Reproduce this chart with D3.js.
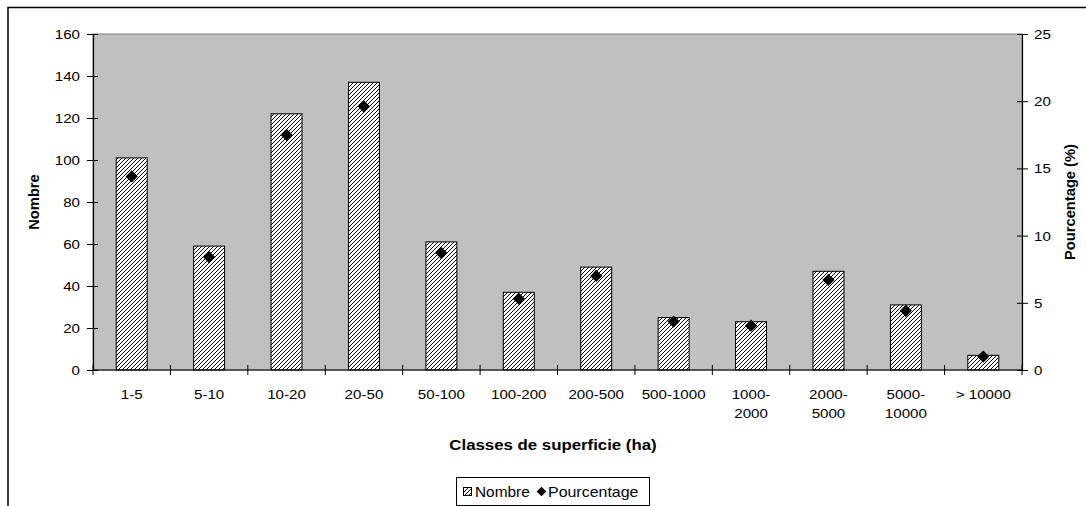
<!DOCTYPE html>
<html><head><meta charset="utf-8">
<script src="https://cdn.jsdelivr.net/npm/d3@7"></script>
<style>
html,body{margin:0;padding:0;background:#fff;}
svg{display:block;font-family:"Liberation Sans",Arial,sans-serif;}
</style></head>
<body>
<svg id="chart" width="1086" height="506"></svg>
<script>
const categories = ["1-5","5-10","10-20","20-50","50-100","100-200","200-500","500-1000","1000-2000","2000-5000","5000-10000","> 10000"];
const nombre = [101,59,122,137,61,37,49,25,23,47,31,7];
const pourcentage = [14.4,8.4,17.5,19.6,8.7,5.3,7.0,3.6,3.3,6.7,4.4,1.0];
const leftTicks = [0,20,40,60,80,100,120,140,160];
const rightTicks = [0,5,10,15,20,25];

const svg = d3.select("#chart");
const W = 1086, H = 506;
const m = {left:93, right:1022, top:34, bottom:370};
const SX = 1.12, FS = 13.5;

function txt(parent, x, y, str, o={}){
  const g = parent.append("g").attr("transform",`translate(${x},${y})${o.rot?` rotate(${o.rot})`:""} scale(${o.sx||SX},1)`);
  return g.append("text").attr("text-anchor",o.anchor||"middle")
    .attr("font-size",o.size||FS).attr("font-weight",o.weight||"normal").attr("fill","#000").text(str);
}

// outer frame (extends beyond viewport)
svg.append("rect").attr("x",8).attr("y",7.5).attr("width",W).attr("height",H)
  .attr("fill","#fff").attr("stroke","#000").attr("stroke-width",1.5);

const defs = svg.append("defs");
const pat = defs.append("pattern").attr("id","hatch").attr("patternUnits","userSpaceOnUse")
  .attr("width",4).attr("height",4);
pat.append("rect").attr("width",4).attr("height",4).attr("fill","#fff");
pat.append("path").attr("d","M-1,1 L1,-1 M0,4 L4,0 M3,5 L5,3")
  .attr("stroke","#000").attr("stroke-width",1);

const x = d3.scaleBand().domain(categories).range([m.left,m.right]).paddingInner(0).paddingOuter(0);
const yL = d3.scaleLinear().domain([0,160]).range([m.bottom,m.top]);
const yR = d3.scaleLinear().domain([0,25]).range([m.bottom,m.top]);

// plot area
svg.append("rect").attr("x",m.left).attr("y",m.top).attr("width",m.right-m.left).attr("height",m.bottom-m.top)
  .attr("fill","#c0c0c0").attr("stroke","#808080").attr("stroke-width",1);

// bars
const bw = x.bandwidth()*0.4;
svg.append("g").selectAll("rect").data(categories).join("rect")
  .attr("x",(d)=>x(d)+x.bandwidth()/2-bw/2)
  .attr("y",(d,i)=>yL(nombre[i]))
  .attr("width",bw)
  .attr("height",(d,i)=>yL(0)-yL(nombre[i]))
  .attr("fill","url(#hatch)").attr("stroke","#000").attr("stroke-width",1);

// diamonds
const dsym = d3.symbol().type(d3.symbolDiamond2).size(95);
svg.append("g").selectAll("path").data(categories).join("path")
  .attr("transform",(d,i)=>`translate(${x(d)+x.bandwidth()/2},${yR(pourcentage[i])})`)
  .attr("d",dsym).attr("fill","#000");

// left axis
const gL = svg.append("g").attr("transform",`translate(${m.left},0)`)
  .call(d3.axisLeft(yL).tickValues(leftTicks).tickSize(6).tickFormat(""));
gL.selectAll(".tick line").attr("x2",-6).attr("x1",5);
leftTicks.forEach(v=>txt(svg, m.left-13, yL(v)+5, String(v), {anchor:"end"}));
// right axis
const gR = svg.append("g").attr("transform",`translate(${m.right},0)`)
  .call(d3.axisRight(yR).tickValues(rightTicks).tickSize(6).tickFormat(""));
gR.selectAll(".tick line").attr("x2",6).attr("x1",-5);
rightTicks.forEach(v=>txt(svg, m.right+12, yR(v)+5, String(v), {anchor:"start"}));
// bottom axis with boundary ticks
const gB = svg.append("g").attr("transform",`translate(0,${m.bottom})`)
  .call(d3.axisBottom(x).tickSize(0).tickFormat(""));
const boundaries = categories.map(c=>x(c)).concat([m.right]);
gB.selectAll(".bt").data(boundaries).join("line").attr("class","bt")
  .attr("x1",d=>d).attr("x2",d=>d).attr("y1",-5).attr("y2",5).attr("stroke","#000");

[gL,gR,gB].forEach(g=>{
  g.select(".domain").attr("stroke","#000").attr("stroke-width",1.2);
  g.selectAll(".tick line").attr("stroke","#000");
});
gB.select(".domain").attr("d",`M${m.left},0H${m.right}`);

// category labels (wrap after hyphen if long)
categories.forEach((c)=>{
  const cx = x(c)+x.bandwidth()/2;
  const lines = c.length>8 ? [c.slice(0,c.indexOf("-")+1), c.slice(c.indexOf("-")+1)] : [c];
  lines.forEach((l,j)=>txt(svg, cx, 399+j*19, l));
});

// titles
txt(svg,553,450,"Classes de superficie (ha)",{size:14.5,weight:"bold",sx:1.16});
txt(svg,39,(m.top+m.bottom)/2,"Nombre",{size:14,weight:"bold",rot:-90,sx:1.05});
txt(svg,1075,(m.top+m.bottom)/2,"Pourcentage (%)",{size:14,weight:"bold",rot:-90,sx:1.05});

// legend
const lg = svg.append("g");
lg.append("rect").attr("x",456.5).attr("y",477.5).attr("width",193).attr("height",28)
  .attr("fill","#fff").attr("stroke","#000").attr("stroke-width",1);
lg.append("rect").attr("x",463.5).attr("y",487.5).attr("width",8).attr("height",8)
  .attr("fill","url(#hatch)").attr("stroke","#000").attr("stroke-width",1);
txt(lg,475,497,"Nombre",{anchor:"start",size:14,sx:1.1});
lg.append("path").attr("transform","translate(541.5,491.5)").attr("d",d3.symbol().type(d3.symbolDiamond2).size(60)).attr("fill","#000");
txt(lg,548,497,"Pourcentage",{anchor:"start",size:14,sx:1.14});
</script>
</body></html>
